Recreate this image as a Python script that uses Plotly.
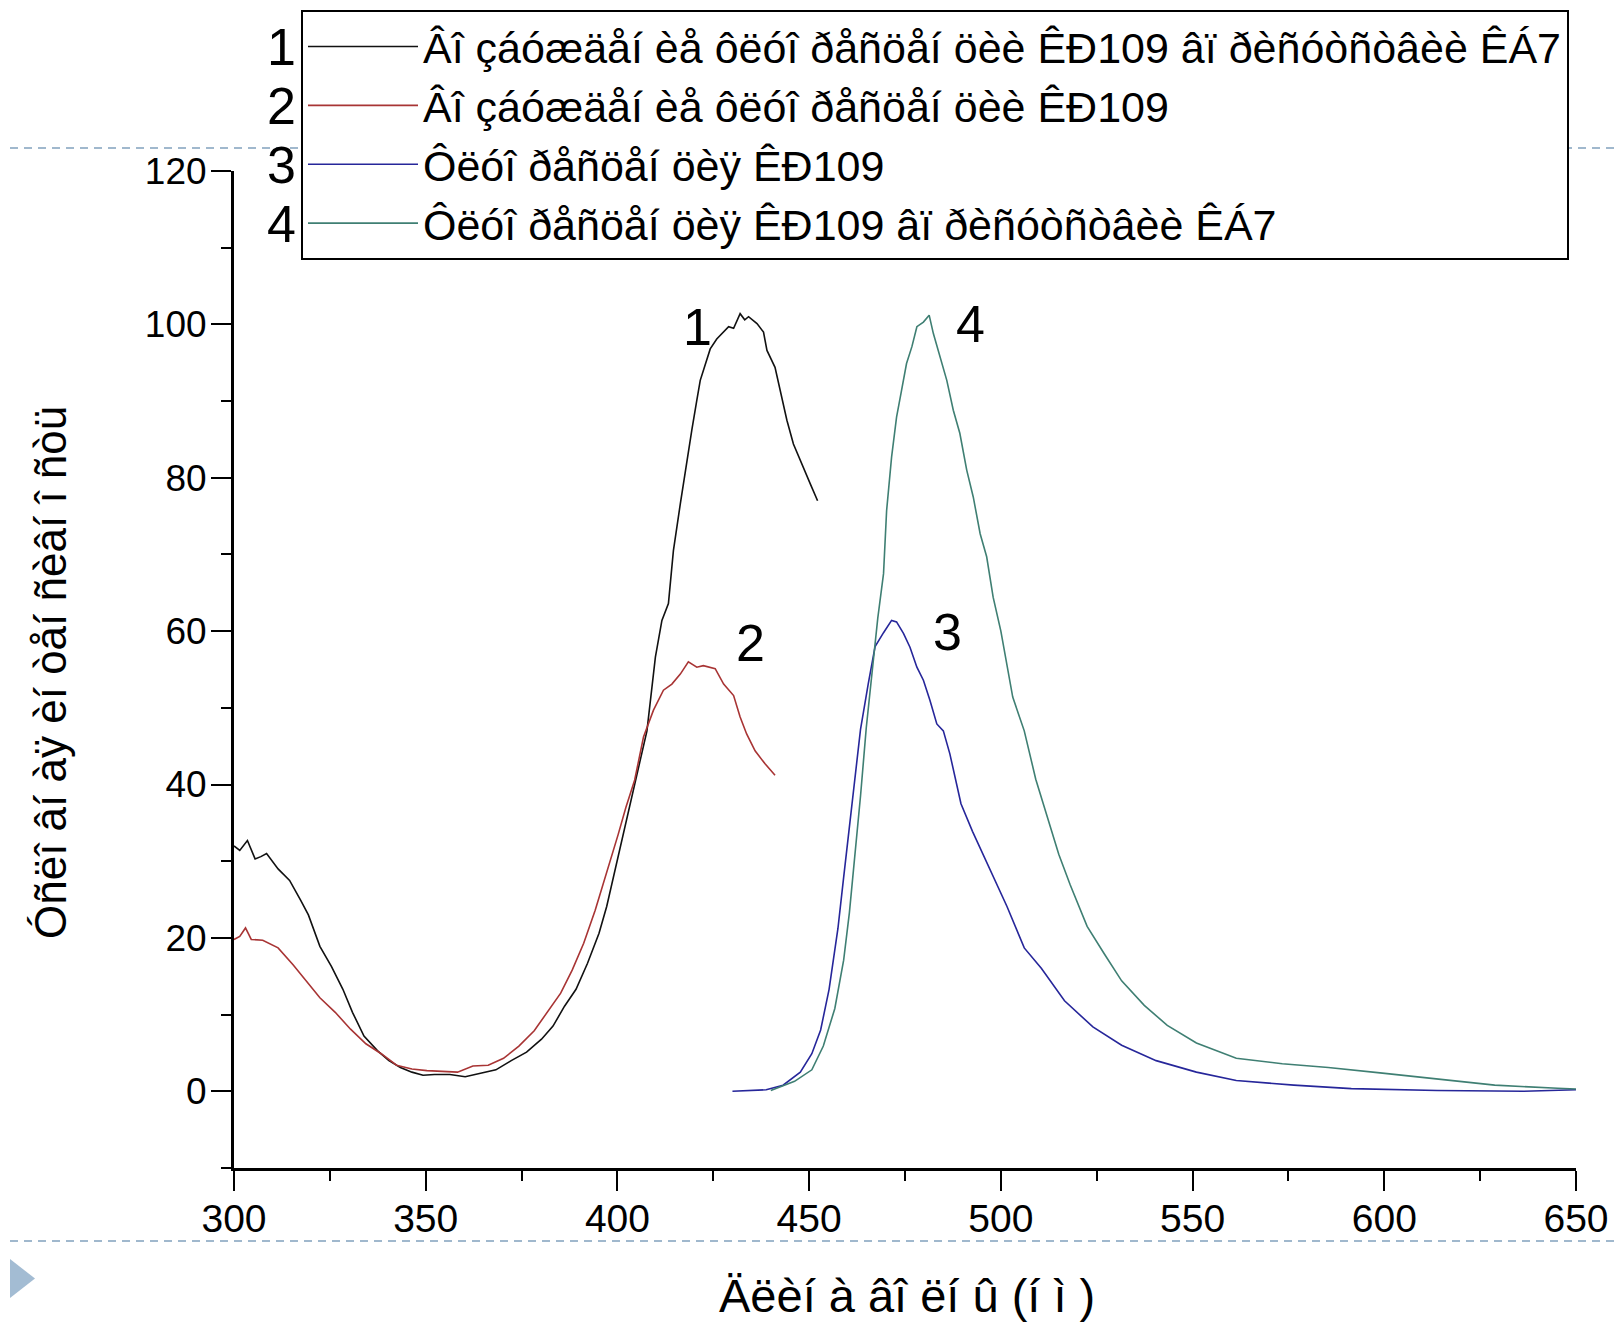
import plotly.graph_objects as go

FONT = "Liberation Sans, Arial, Helvetica, sans-serif"

names = [
    "Âî çáóæäåí èå ôëóî ðåñöåí öèè ÊÐ109 âï ðèñóòñòâèè ÊÁ7",
    "Âî çáóæäåí èå ôëóî ðåñöåí öèè ÊÐ109",
    "Ôëóî ðåñöåí öèÿ ÊÐ109",
    "Ôëóî ðåñöåí öèÿ ÊÐ109 âï ðèñóòñòâèè ÊÁ7",
]
numbers = ["1", "2", "3", "4"]
colors = ["#111111", "#a83434", "#26269a", "#3f7f73"]
x_title = "Äëèí à âî ëí û (í ì )"
y_title = "Óñëî âí àÿ èí òåí ñèâí î ñòü"

x1 = [300.0, 301.5, 303.5, 305.5, 307.0, 308.5, 311.5, 314.5, 317.4, 319.4, 322.4, 325.4,
      328.4, 330.9, 333.9, 337.4, 340.4, 343.4, 346.4, 349.3, 352.3, 356.3, 360.3, 364.3,
      368.3, 372.3, 376.3, 380.2, 383.2, 386.2, 389.2, 392.2, 395.2, 397.2, 399.2, 401.2,
      403.2, 404.7, 407.7, 409.9, 411.6, 413.3, 414.6, 416.4, 418.1, 419.4, 420.7, 421.6,
      424.2, 425.9, 429.0, 430.3, 432.0, 433.2, 434.2, 436.4, 438.1, 439.0, 441.1, 442.9,
      444.2, 445.9, 447.6, 450.3, 452.2]
y1 = [32.0, 31.4, 32.7, 30.3, 30.6, 31.0, 29.0, 27.5, 24.9, 23.0, 18.9, 16.3,
      13.3, 10.3, 7.2, 5.3, 4.0, 3.1, 2.5, 2.1, 2.2, 2.2, 1.9, 2.4,
      2.8, 4.0, 5.1, 6.8, 8.5, 11.1, 13.3, 16.7, 20.6, 24.1, 28.4, 33.1,
      37.4, 40.4, 47.0, 56.6, 61.4, 63.6, 70.5, 76.6, 82.3, 86.2, 90.1, 92.7,
      96.8, 98.1, 99.7, 99.5, 101.4, 100.6, 101.0, 100.1, 99.0, 96.6, 94.4, 90.5,
      87.5, 84.4, 82.3, 79.2, 77.0]

x2 = [300.0, 301.5, 303.0, 304.5, 307.5, 311.5, 315.4, 319.4, 322.4, 326.4, 330.4, 334.4,
      338.4, 342.4, 346.4, 350.3, 354.3, 358.3, 362.3, 366.3, 370.3, 374.3, 378.3, 382.2,
      385.2, 388.2, 391.2, 394.2, 397.2, 400.2, 402.2, 404.5, 406.8, 409.4, 412.0, 414.2,
      416.4, 418.5, 420.7, 422.4, 425.5, 427.7, 430.3, 432.0, 433.7, 435.9, 438.5, 441.1]
y2 = [19.8, 20.2, 21.3, 19.8, 19.7, 18.7, 16.5, 14.1, 12.2, 10.3, 8.1, 6.2,
      4.9, 3.4, 2.9, 2.7, 2.6, 2.5, 3.3, 3.4, 4.3, 5.9, 7.9, 10.7,
      12.8, 15.8, 19.3, 23.6, 28.4, 33.5, 37.0, 40.6, 46.2, 49.7, 52.3, 53.1,
      54.4, 56.0, 55.3, 55.5, 55.1, 53.1, 51.6, 48.8, 46.6, 44.4, 42.7, 41.2]

x3 = [430.0, 434.0, 438.8, 443.2, 447.7, 450.7, 453.0, 455.2, 457.5, 459.0, 460.5, 461.9,
      463.4, 465.4, 467.2, 469.4, 471.5, 472.8, 474.6, 476.3, 478.1, 479.8, 481.5, 483.3,
      485.0, 486.7, 489.6, 492.6, 497.1, 501.6, 506.1, 510.6, 516.6, 524.0, 531.5, 540.5,
      551.0, 561.4, 576.4, 591.4, 613.8, 636.3, 650.0]
y3 = [0.0, 0.05, 0.2, 0.8, 2.5, 4.9, 8.0, 13.3, 21.2, 27.9, 34.6, 40.9,
      47.2, 53.1, 58.0, 59.8, 61.4, 61.2, 59.7, 57.9, 55.3, 53.6, 51.0, 47.9,
      47.0, 44.0, 37.5, 33.9, 29.0, 24.1, 18.7, 16.0, 11.8, 8.4, 6.0, 4.0,
      2.5, 1.4, 0.8, 0.35, 0.1, 0.0, 0.2]

x4 = [440.0, 446.2, 450.7, 453.7, 456.7, 459.0, 460.5, 461.9, 463.4, 464.9, 466.4, 467.9,
      469.4, 470.2, 471.5, 472.8, 474.1, 475.4, 476.8, 478.1, 479.8, 481.3, 482.4, 484.1,
      485.9, 487.6, 489.3, 491.1, 492.8, 494.6, 496.3, 498.0, 500.0, 503.1, 506.1, 509.1,
      512.1, 515.1, 518.1, 522.5, 527.0, 531.5, 537.4, 543.4, 551.0, 561.4, 573.4, 585.4,
      598.9, 613.8, 628.8, 645.2, 650.0]
y4 = [0.1, 1.3, 2.8, 5.9, 10.8, 17.1, 23.3, 30.5, 38.5, 47.4, 55.0, 61.7,
      67.5, 75.7, 82.7, 87.9, 91.4, 94.9, 97.1, 99.7, 100.3, 101.2, 98.8, 95.8,
      92.7, 88.8, 85.8, 81.0, 77.5, 72.7, 69.7, 64.4, 60.0, 51.4, 47.0, 40.7,
      35.8, 30.9, 26.9, 21.5, 17.9, 14.4, 11.2, 8.6, 6.3, 4.3, 3.6, 3.1,
      2.4, 1.6, 0.8, 0.4, 0.3]

# curve number labels inside the plot (data coords)
label_x = [421.0, 434.6, 486.0, 492.2]
label_y = [99.6, 58.4, 59.9, 100.1]

series_x = [x1, x2, x3, x4]
series_y = [y1, y2, y3, y4]

fig = go.Figure()
for i in range(4):
    fig.add_trace(go.Scatter(
        x=series_x[i], y=series_y[i], mode="lines", name=names[i],
        line=dict(color=colors[i], width=1.6),
    ))

# layout geometry (figure pixels; the page adds an 8px body margin)
OFF = 8
W, H = 1616, 1318
L, R, T, B = 226, 48, 163, 158
PW, PH = W - L - R, H - T - B

def px(xs):  # screen x -> paper
    return (xs - OFF - L) / PW

def py(ys):  # screen y -> paper
    return (H - B - (ys - OFF)) / PH

annotations = []
for i in range(4):
    annotations.append(dict(
        x=label_x[i], y=label_y[i], xref="x", yref="y", text=numbers[i],
        showarrow=False, font=dict(family=FONT, size=52, color="#000"),
        xanchor="center", yanchor="middle"))

legend_row_y = [46.6, 105.6, 164.6, 223.6]
for i in range(4):
    annotations.append(dict(
        x=px(281), y=py(legend_row_y[i]), xref="paper", yref="paper", text=numbers[i],
        showarrow=False, font=dict(family=FONT, size=52, color="#000"),
        xanchor="center", yanchor="middle"))

annotations.append(dict(
    x=px(907), y=py(1295), xref="paper", yref="paper", text=x_title, showarrow=False,
    font=dict(family=FONT, size=47, color="#000"), xanchor="center", yanchor="middle"))
annotations.append(dict(
    x=px(50), y=py(673), xref="paper", yref="paper", text=y_title, showarrow=False,
    textangle=-90, font=dict(family=FONT, size=44, color="#000"), xanchor="center", yanchor="middle"))

deco = "#a0b8cd"
shapes = [
    dict(type="line", xref="paper", yref="paper", x0=px(10), x1=px(1624), y0=py(148), y1=py(148),
         line=dict(color=deco, width=2, dash="8px,6px"), layer="below"),
    dict(type="line", xref="paper", yref="paper", x0=px(10), x1=px(1624), y0=py(1241), y1=py(1241),
         line=dict(color=deco, width=2, dash="8px,6px"), layer="below"),
    dict(type="path", xref="paper", yref="paper",
         path=f"M {px(10)},{py(1259)} L {px(10)},{py(1298)} L {px(35)},{py(1278.5)} Z",
         fillcolor="#a3bcd3", line=dict(width=0), layer="below"),
]

fig.update_layout(
    width=W, height=H,
    margin=dict(l=L, r=R, t=T, b=B, autoexpand=False),
    paper_bgcolor="white", plot_bgcolor="white",
    showlegend=True,
    legend=dict(
        x=px(301), y=py(10), xanchor="left", yanchor="top",
        bgcolor="white", bordercolor="#000", borderwidth=2,
        font=dict(family=FONT, size=43, color="#000"),
        itemwidth=110, tracegroupgap=0, traceorder="normal",
    ),
    annotations=annotations,
    shapes=shapes,
    xaxis=dict(
        range=[300, 650], tickmode="linear", tick0=300, dtick=50,
        showline=True, linecolor="#000", linewidth=3, mirror=False,
        ticks="outside", ticklen=20, tickwidth=2, tickcolor="#000",
        minor=dict(tickmode="linear", tick0=300, dtick=25, ticks="outside", ticklen=10, tickwidth=2, tickcolor="#000"),
        showgrid=False, zeroline=False,
        tickfont=dict(family=FONT, size=39, color="#000"),
        ticklabelstandoff=-6,
        automargin=False,
    ),
    yaxis=dict(
        range=[-10, 120], tickmode="linear", tick0=0, dtick=20,
        showline=True, linecolor="#000", linewidth=3, mirror=False,
        ticks="outside", ticklen=20, tickwidth=2, tickcolor="#000",
        minor=dict(tickmode="linear", tick0=-10, dtick=10, ticks="outside", ticklen=10, tickwidth=2, tickcolor="#000"),
        showgrid=False, zeroline=False,
        tickfont=dict(family=FONT, size=37, color="#000"),
        ticklabelstandoff=-3,
        automargin=False,
    ),
)

fig.write_html("out.html")
